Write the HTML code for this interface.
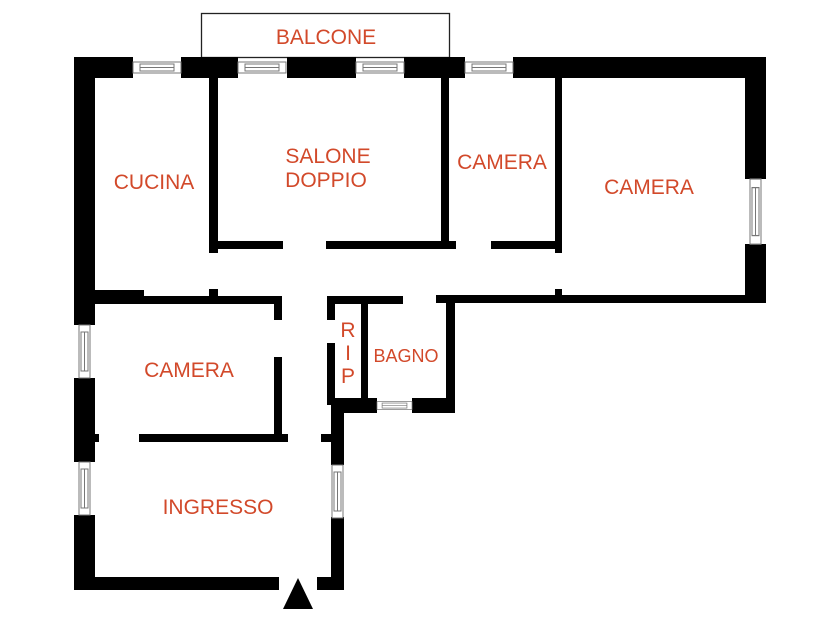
<!DOCTYPE html>
<html><head><meta charset="utf-8"><style>
html,body{margin:0;padding:0;background:#fff;}
svg{display:block;}
text{font-family:"Liberation Sans",sans-serif;fill:#d2492a;font-size:21px;text-anchor:middle;}
</style></head><body>
<svg width="836" height="622" viewBox="0 0 836 622" xmlns="http://www.w3.org/2000/svg">
<defs>
<g id="wh"><rect x="0" y="5" width="48" height="11" fill="#fff" stroke="#777" stroke-width="1"/><rect x="7" y="7" width="34" height="7" fill="#fff" stroke="#777" stroke-width="1"/><line x1="7" y1="10.5" x2="41" y2="10.5" stroke="#777" stroke-width="1"/></g>
<g id="wv"><rect x="5" y="0" width="11" height="53" fill="#fff" stroke="#777" stroke-width="1"/><rect x="7" y="7" width="7" height="39" fill="#fff" stroke="#777" stroke-width="1"/><line x1="10.5" y1="7" x2="10.5" y2="46" stroke="#777" stroke-width="1"/></g>
</defs>
<rect x="201.5" y="13.5" width="248" height="44" fill="none" stroke="#222" stroke-width="1.3"/>
<text x="326" y="44">BALCONE</text>
<g fill="#000">
<rect x="74" y="57" width="59" height="21"/>
<rect x="181" y="57" width="57" height="21"/>
<rect x="287" y="57" width="69" height="21"/>
<rect x="404" y="57" width="61" height="21"/>
<rect x="513" y="57" width="253" height="21"/>
<rect x="74" y="57" width="21" height="268"/>
<rect x="74" y="378" width="21" height="84"/>
<rect x="95" y="434" width="4" height="8"/>
<rect x="74" y="515" width="21" height="75"/>
<rect x="74" y="577" width="205" height="13"/>
<rect x="317" y="577" width="27" height="13"/>
<rect x="331" y="517" width="13" height="73"/>
<rect x="331" y="405" width="13" height="60"/>
<rect x="321" y="434" width="10" height="8"/>
<rect x="331" y="398" width="46" height="15"/>
<rect x="412" y="398" width="43" height="15"/>
<rect x="446" y="296" width="9" height="117"/>
<rect x="327" y="296" width="8" height="24"/>
<rect x="327" y="343" width="8" height="62"/>
<rect x="361" y="296" width="7" height="102"/>
<rect x="327" y="296" width="76" height="8"/>
<rect x="436" y="295" width="330" height="8"/>
<rect x="745" y="57" width="21" height="122"/>
<rect x="745" y="244" width="21" height="59"/>
<rect x="555" y="289" width="7" height="7"/>
<rect x="95" y="290" width="49" height="14"/>
<rect x="95" y="296" width="187" height="8"/>
<rect x="209" y="289" width="9" height="8"/>
<rect x="274" y="296" width="8" height="24"/>
<rect x="274" y="357" width="8" height="85"/>
<rect x="139" y="434" width="149" height="8"/>
<rect x="209" y="78" width="9" height="175"/>
<rect x="218" y="241" width="65" height="8"/>
<rect x="326" y="241" width="130" height="8"/>
<rect x="441" y="78" width="8" height="171"/>
<rect x="491" y="241" width="71" height="8"/>
<rect x="555" y="78" width="7" height="175"/>
<polygon points="283,609 298,578 313,609"/>
</g>
<use href="#wh" x="133" y="57"/>
<use href="#wh" x="238" y="57"/>
<use href="#wh" x="356" y="57"/>
<use href="#wh" x="465" y="57"/>
<g transform="translate(377,398) scale(0.73,0.72)"><use href="#wh" x="0" y="0"/></g>
<use href="#wv" x="74" y="325"/>
<use href="#wv" x="74" y="462"/>
<use href="#wv" x="331" y="465" transform="translate(-4,0)"/>
<g transform="translate(745,179) scale(1,1.23)"><use href="#wv" x="0" y="0"/></g>
<text x="154" y="189">CUCINA</text>
<text x="328" y="163">SALONE</text>
<text x="326" y="187">DOPPIO</text>
<text x="502" y="169">CAMERA</text>
<text x="649" y="194">CAMERA</text>
<text x="189" y="377">CAMERA</text>
<text x="218" y="514">INGRESSO</text>
<text x="348" y="337">R</text>
<text x="348" y="360">I</text>
<text x="348" y="383">P</text>
<text x="406" y="362" style="font-size:18px">BAGNO</text>
</svg>
</body></html>
